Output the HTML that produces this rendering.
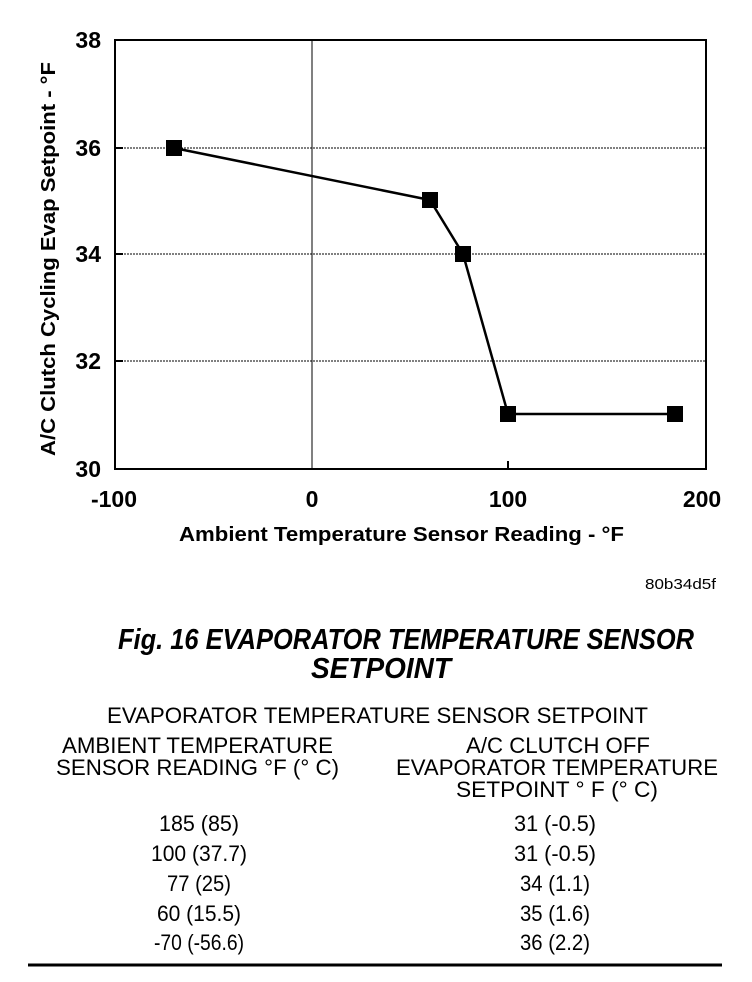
<!DOCTYPE html>
<html><head><meta charset="utf-8"><style>
html,body{margin:0;padding:0;background:#fff;}
svg{display:block;}
text{font-family:"Liberation Sans",Arial,sans-serif;fill:#000;}
.b{font-weight:bold;}
</style></head><body>
<svg width="752" height="982" viewBox="0 0 752 982">
<g stroke="#000" stroke-width="1" stroke-dasharray="2,1">
<line x1="115" y1="148" x2="706" y2="148"/>
<line x1="115" y1="254" x2="706" y2="254"/>
<line x1="115" y1="361" x2="706" y2="361"/>
</g>
<line x1="312" y1="40" x2="312" y2="469" stroke="#000" stroke-width="1"/>
<rect x="115" y="40" width="591" height="429" fill="none" stroke="#000" stroke-width="2"/>
<g stroke="#000" stroke-width="2">
<line x1="115" y1="148" x2="123" y2="148"/>
<line x1="115" y1="254" x2="123" y2="254"/>
<line x1="115" y1="361" x2="123" y2="361"/>
<line x1="508" y1="469" x2="508" y2="461"/>
</g>
<polyline points="174,148 430,200 463,254 508,414 675,414" fill="none" stroke="#000" stroke-width="2.5"/>
<g fill="#000">
<rect x="166" y="140" width="16" height="16"/>
<rect x="422" y="192" width="16" height="16"/>
<rect x="455" y="246" width="16" height="16"/>
<rect x="500" y="406" width="16" height="16"/>
<rect x="667" y="406" width="16" height="16"/>
</g>
<g class="b" font-size="23" text-anchor="end">
<text x="101" y="48">38</text>
<text x="101" y="156">36</text>
<text x="101" y="262">34</text>
<text x="101" y="369">32</text>
<text x="101" y="477">30</text>
</g>
<g class="b" font-size="23" text-anchor="middle">
<text x="114" y="507">-100</text>
<text x="312" y="507">0</text>
<text x="508" y="507">100</text>
<text x="702" y="507">200</text>
</g>
<text class="b" x="179" y="541" font-size="20" textLength="445" lengthAdjust="spacingAndGlyphs">Ambient Temperature Sensor Reading - °F</text>
<text class="b" transform="translate(55,456) rotate(-90)" font-size="20" textLength="394" lengthAdjust="spacingAndGlyphs">A/C Clutch Cycling Evap Setpoint - °F</text>
<text x="645" y="589" font-size="15" textLength="71" lengthAdjust="spacingAndGlyphs">80b34d5f</text>
<text class="b" x="118" y="649" font-size="29" font-style="italic" textLength="576" lengthAdjust="spacingAndGlyphs">Fig. 16 EVAPORATOR TEMPERATURE SENSOR</text>
<text class="b" x="311" y="678" font-size="29" font-style="italic" textLength="140" lengthAdjust="spacingAndGlyphs">SETPOINT</text>
<g font-size="22">
<text x="107" y="723" textLength="541" lengthAdjust="spacingAndGlyphs">EVAPORATOR TEMPERATURE SENSOR SETPOINT</text>
<text x="62" y="753" textLength="271" lengthAdjust="spacingAndGlyphs">AMBIENT TEMPERATURE</text>
<text x="56" y="775" textLength="283" lengthAdjust="spacingAndGlyphs">SENSOR READING °F (° C)</text>
<text x="466" y="753" textLength="184" lengthAdjust="spacingAndGlyphs">A/C CLUTCH OFF</text>
<text x="396" y="775" textLength="322" lengthAdjust="spacingAndGlyphs">EVAPORATOR TEMPERATURE</text>
<text x="456" y="797" textLength="202" lengthAdjust="spacingAndGlyphs">SETPOINT ° F (° C)</text>
</g>
<g font-size="22" text-anchor="middle">
<text x="199" y="831" textLength="80" lengthAdjust="spacingAndGlyphs">185 (85)</text>
<text x="199" y="861" textLength="96" lengthAdjust="spacingAndGlyphs">100 (37.7)</text>
<text x="199" y="891" textLength="64" lengthAdjust="spacingAndGlyphs">77 (25)</text>
<text x="199" y="921" textLength="84" lengthAdjust="spacingAndGlyphs">60 (15.5)</text>
<text x="199" y="950" textLength="90" lengthAdjust="spacingAndGlyphs">-70 (-56.6)</text>
<text x="555" y="831" textLength="82" lengthAdjust="spacingAndGlyphs">31 (-0.5)</text>
<text x="555" y="861" textLength="82" lengthAdjust="spacingAndGlyphs">31 (-0.5)</text>
<text x="555" y="891" textLength="70" lengthAdjust="spacingAndGlyphs">34 (1.1)</text>
<text x="555" y="921" textLength="70" lengthAdjust="spacingAndGlyphs">35 (1.6)</text>
<text x="555" y="950" textLength="70" lengthAdjust="spacingAndGlyphs">36 (2.2)</text>
</g>
<line x1="28" y1="965" x2="722" y2="965" stroke="#000" stroke-width="3"/>
</svg>
</body></html>
